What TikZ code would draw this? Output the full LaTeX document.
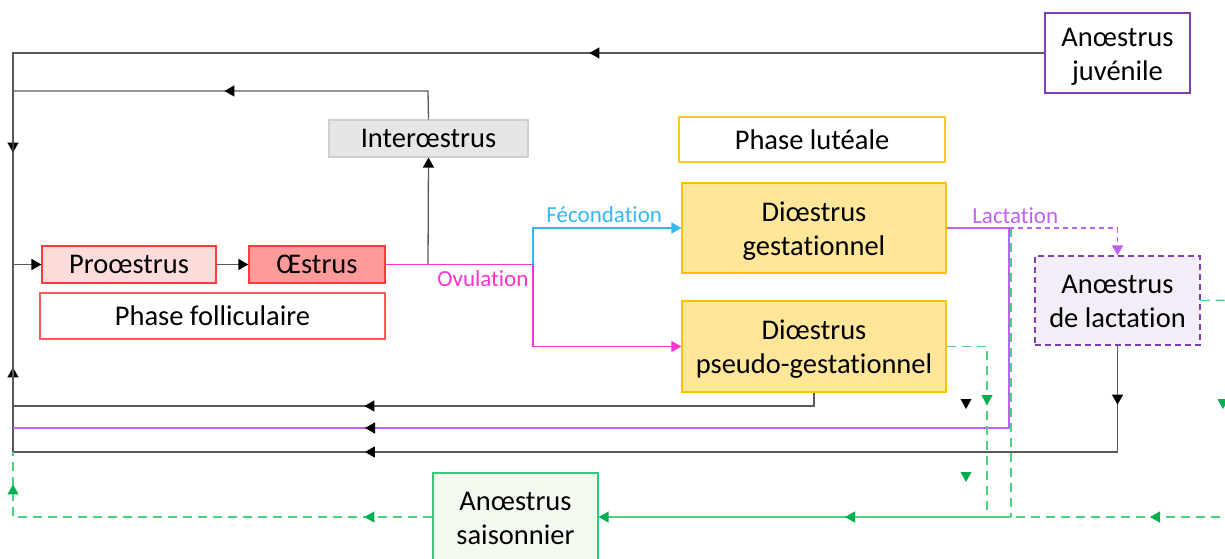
\documentclass[tikz,border=0pt]{standalone}
\usepackage{fontspec}
\setmainfont{Carlito}[Ligatures={NoCommon}]
\usetikzlibrary{arrows.meta,decorations.markings}
\definecolor{redb}{HTML}{FF3B3B}
\definecolor{prof}{HTML}{FFDCDC}
\definecolor{oesf}{HTML}{FF9A9A}
\definecolor{yelb}{HTML}{FFC000}
\definecolor{yelf}{HTML}{FFE699}
\definecolor{grayb}{HTML}{D0CECE}
\definecolor{grayf}{HTML}{E7E6E6}
\definecolor{purb}{HTML}{7F3FB0}
\definecolor{purf}{HTML}{F2EDF7}
\definecolor{magc}{HTML}{FF33CC}
\definecolor{cyac}{HTML}{33B8F0}
\definecolor{lacc}{HTML}{C060F5}
\definecolor{grnl}{HTML}{4CD080}
\definecolor{grna}{HTML}{00B050}
\definecolor{linec}{HTML}{595959}
\definecolor{sais}{HTML}{F4F9F0}
\tikzset{
  >={Triangle[width=11pt,length=10pt]},
  blk/.tip={Triangle[width=11pt,length=10pt,color=black]},
  box/.style={rectangle,draw,line width=1.2pt,align=center,inner sep=0pt,font=\fontsize{28.5}{34}\selectfont},
  twoline/.style={text height=58pt,text depth=4pt},
  lab/.style={font=\fontsize{23}{26}\selectfont,inner sep=0pt},
  conn/.style={line width=1.3pt,color=linec},
  gconn/.style={line width=1.3pt,color=grnl,dash pattern=on 9pt off 6pt},
}
\begin{document}
\begin{tikzpicture}[x=1pt,y=-1pt]
\useasboundingbox (0,0) rectangle (1225,558);
% nodes
\node[box,twoline,draw=purb,fill=white,minimum width=145pt,minimum height=80pt] (juv) at (1117.5,53) {Anœstrus\\juvénile};
\node[box,draw=grayb,fill=grayf,minimum width=199pt,minimum height=37pt] (inter) at (428.5,138.5) {Interœstrus};
\node[box,draw=redb,fill=prof,minimum width=174pt,minimum height=37pt] (pro) at (129,264.5) {Proœstrus};
\node[box,draw=redb,fill=oesf,minimum width=136pt,minimum height=37pt] (oes) at (317,264.5) {Œstrus};
\node[box,draw=redb!85,fill=white,minimum width=345pt,minimum height=46pt] (fol) at (212.5,316) {Phase folliculaire};
\node[box,draw=yelb!85,fill=white,minimum width=266pt,minimum height=45pt] (lut) at (812,139.5) {Phase lutéale};
\node[box,twoline,draw=yelb,fill=yelf,minimum width=264pt,minimum height=90pt] (gest) at (814,228) {Diœstrus\\gestationnel};
\node[box,twoline,draw=yelb,fill=yelf,minimum width=264pt,minimum height=91pt] (pseudo) at (814,346.5) {Diœstrus\\pseudo-gestationnel};
\node[box,twoline,draw=purb,fill=purf,dash pattern=on 6pt off 4pt,minimum width=165pt,minimum height=89pt] (lact) at (1117.5,300.5) {Anœstrus\\de lactation};
\node[box,twoline,draw=grna!75,fill=sais,minimum width=165pt,minimum height=88pt] (sai) at (515.5,517) {Anœstrus\\saisonnier};
% coordinates
\coordinate (ov) at (533,264.5);
\coordinate (lj) at (1009,228);
\coordinate (edgeR) at (1235,300);
\coordinate (edgeB) at (1235,517);
\coordinate (gj) at (1011,517);
% black connectors
\draw[conn,postaction={decorate,decoration={markings,mark=at position 455pt with {\arrow{blk}},mark=at position 1131pt with {\arrow{blk}}}}] (juv.west) -- (13,53) -- (13,264.5);
\draw[conn,postaction={decorate,decoration={markings,mark=at position 232pt with {\arrow{blk}}}}] (inter.north) -- (428,91) -- (13,91) -- (13,264.5);
\draw[conn,postaction={decorate,decoration={markings,mark=at position 463pt with {\arrow{blk}},mark=at position 853pt with {\arrow{blk}}}}] (pseudo.south) -- (814,406) -- (13,406) -- (13,264.5);
\draw[conn,postaction={decorate,decoration={markings,mark=at position 59pt with {\arrow{blk}},mark=at position 859pt with {\arrow{blk}}}}] (lact.south) -- (1117.5,452) -- (13,452) -- (13,264.5);
\draw[conn,-blk] (13,264.5) -- (pro.west);
\draw[conn,-blk] (pro.east) -- (oes.west);
\draw[conn,-blk] (428,264.5) -- (inter.south);
% ovulation / fecondation
\draw[line width=1.3pt,magc] (oes.east) -- (ov) node[lab,pos=0.66,below=5pt,text=magc] {Ovulation};
\draw[line width=1.3pt,magc,->] (ov) -- (533,346.5) -- (pseudo.west);
\draw[line width=1.3pt,cyac,->] (ov) -- (533,228) -- (gest.west) node[lab,pos=0.48,above=5pt,text=cyac] {Fécondation};
% lactation
\draw[gconn] (1011,228) -- (gj);
\draw[line width=1.3pt,lacc] (gest.east) -- (lj) node[lab,pos=1.1,above=4pt,text=lacc] {Lactation};
\draw[line width=1.3pt,lacc,postaction={decorate,decoration={markings,mark=at position 844pt with {\arrow{blk}}}}] (lj) -- (1009,428) -- (13,428);
\draw[line width=1.3pt,lacc,dash pattern=on 5pt off 4pt,->] (lj) -- (1117.5,228) -- (lact.north);
% green
\draw[gconn,postaction={decorate,decoration={markings,mark=at position 99pt with {\arrow[grna]{>}}}}] (pseudo.east) -- (987,346.5) -- (987,517);
\draw[gconn] (lact.east) -- (edgeR);
\draw[gconn,postaction={decorate,decoration={markings,mark=at position 85pt with {\arrow[grna]{>}}}}] (edgeB) -- (gj);
\draw[line width=1.3pt,grnl,postaction={decorate,decoration={markings,mark=at position 166pt with {\arrow[grna]{>}}}},-{Triangle[width=11pt,length=10pt,color=grna]}] (gj) -- (sai.east);
\draw[gconn,postaction={decorate,decoration={markings,mark=at position 68pt with {\arrow[grna]{>}},mark=at position 452pt with {\arrow[grna]{>}}}}] (sai.west) -- (13,517) -- (13,452);
% stray arrowheads
\fill[black] (960.5,399) -- (971.5,399) -- (966,409) -- cycle;
\fill[grna] (960.5,472) -- (971.5,472) -- (966,482) -- cycle;
\fill[grna] (1217.5,399) -- (1228.5,399) -- (1223,409) -- cycle;
\end{tikzpicture}
\end{document}
